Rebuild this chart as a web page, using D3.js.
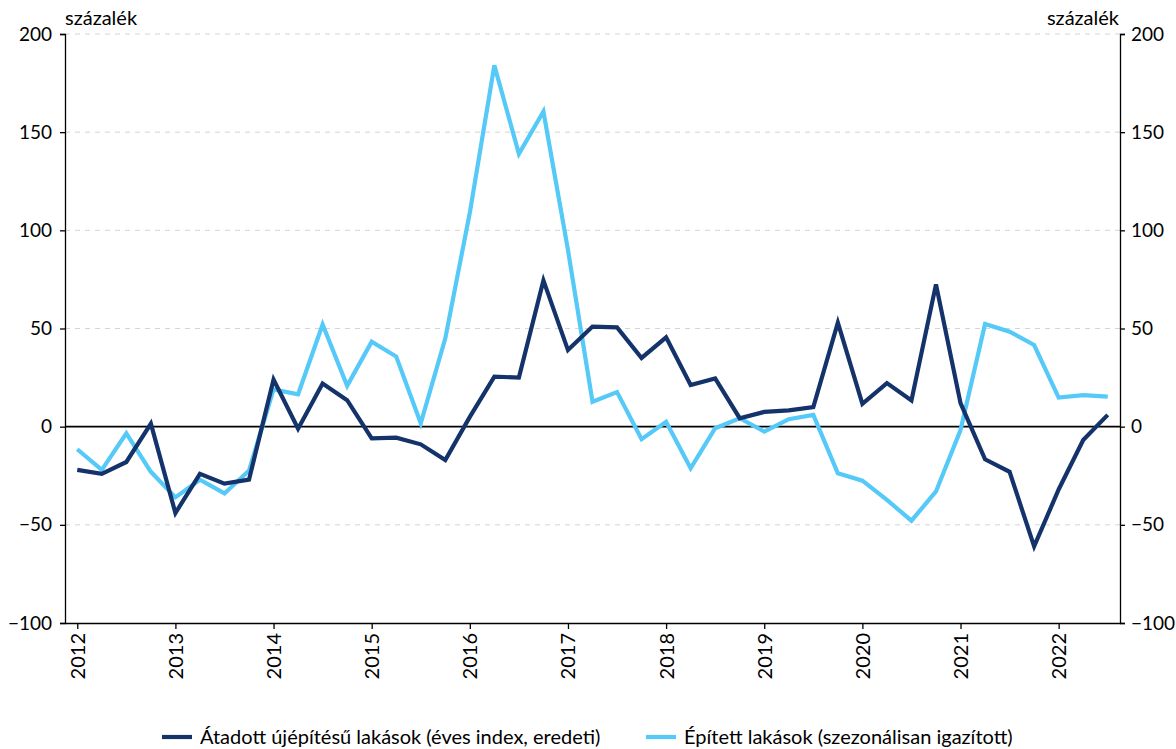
<!DOCTYPE html>
<html>
<head>
<meta charset="utf-8">
<script src="https://cdn.jsdelivr.net/npm/d3@7"></script>
<style>
  body { margin: 0; background: #fff; }
  svg text { font-family: Lato, "Open Sans", sans-serif; fill: #000; }
</style>
</head>
<body>
<svg id="chart" width="1176" height="749"></svg>
<script>
// quarterly, 2012 Q1 .. 2022 Q3
const years = d3.range(2012, 2023);

const atadott = [
  -22, -24, -18, 1.5, -44, -24, -29, -27,
  24, -1, 22, 13.5, -6, -5.6, -9, -17,
  5, 25.5, 25, 74.5, 39, 51, 50.6, 35,
  45.5, 21.2, 24.6, 4.3, 7.5, 8.3, 10, 53,
  11.6, 22.2, 13.3, 72.5, 12, -16.6, -23, -61,
  -32, -6.8, 6
];
const epitett = [
  -11.5, -22, -3.4, -23, -36, -27, -34, -22.4,
  19, 16.5, 52, 20.8, 43.3, 35.7, 1.7, 45,
  109, 184, 139, 160.5, 90, 12.7, 17.6, -6.4,
  2.5, -21.2, -0.8, 4.3, -2.5, 3.8, 6, -23.7,
  -27.5, -37.3, -47.9, -33, -1.7, 52.3, 48.4, 41.6,
  14.8, 16.1, 15.3
];
const yTicks = [-100, -50, 0, 50, 100, 150, 200];
const seriesNames = ["Átadott újépítésű lakások (éves index, eredeti)", "Épített lakások (szezonálisan igazított)"];
const colors = ["#15336b", "#55c9f7"];

const margin = { top: 34, right: 56, bottom: 126, left: 65 };
const width = 1176 - margin.left - margin.right;
const height = 749 - margin.top - margin.bottom;

const svg = d3.select("#chart");
const g = svg.append("g").attr("transform", `translate(${margin.left},${margin.top})`);

const x = d3.scaleLinear().domain([-0.5, 42.5]).range([0, width]);
const y = d3.scaleLinear().domain([-100, 200]).range([height, 0]);

// gridlines
g.append("g").selectAll("line")
  .data(yTicks.filter(v => v !== -100 && v !== 0))
  .join("line")
  .attr("x1", 0).attr("x2", width)
  .attr("y1", d => y(d)).attr("y2", d => y(d))
  .attr("stroke", "#d4d4d4").attr("stroke-width", 1)
  .attr("stroke-dasharray", "5,5");

// axes
const yLeft = d3.axisLeft(y).tickValues(yTicks).tickSize(5).tickPadding(8);
const yRight = d3.axisRight(y).tickValues(yTicks).tickSize(5).tickPadding(6);

const gl = g.append("g").call(yLeft);
const gr = g.append("g").attr("transform", `translate(${width},0)`).call(yRight);
[gl, gr].forEach(a => {
  a.select(".domain").attr("stroke", "#000").attr("stroke-width", 1.3);
  a.selectAll(".tick line").attr("stroke", "#000").attr("stroke-width", 1.3);
  a.selectAll("text").style("font-size", "19px");
});

const xAxis = d3.axisBottom(x)
  .tickValues(years.map(yr => (yr - 2012) * 4))
  .tickFormat(d => String(2012 + d / 4))
  .tickSize(6).tickSizeOuter(0);
const gx = g.append("g").attr("transform", `translate(0,${height})`).call(xAxis);
gx.select(".domain").attr("stroke", "#000").attr("stroke-width", 1.5);
gx.selectAll(".tick line").attr("stroke", "#000").attr("stroke-width", 1.3);
gx.selectAll("text")
  .style("font-size", "20px")
  .attr("transform", "rotate(-90)")
  .attr("text-anchor", "end")
  .attr("x", -10).attr("y", 0).attr("dy", "0.35em");

// zero line
g.append("line")
  .attr("x1", 0).attr("x2", width)
  .attr("y1", y(0)).attr("y2", y(0))
  .attr("stroke", "#000").attr("stroke-width", 1.8);

// unit labels
svg.append("text").attr("x", 65).attr("y", 25).style("font-size", "20px").text("százalék");
svg.append("text").attr("x", 1119).attr("y", 25).attr("text-anchor", "end").style("font-size", "20px").text("százalék");

// lines
const line = d3.line().x((d, i) => x(i)).y(d => y(d));
[epitett, atadott].forEach((s, k) => {
  g.append("path")
    .datum(s)
    .attr("fill", "none")
    .attr("stroke", k === 0 ? colors[1] : colors[0])
    .attr("stroke-width", 4.2)
    .attr("stroke-linejoin", "miter")
    .attr("d", line);
});

// legend
const legend = svg.append("g").attr("transform", "translate(0,737)");
const legendX = [162, 646];
seriesNames.forEach((name, k) => {
  legend.append("line")
    .attr("x1", legendX[k]).attr("x2", legendX[k] + 30)
    .attr("y1", 0).attr("y2", 0)
    .attr("stroke", colors[k]).attr("stroke-width", 4.2);
  legend.append("text")
    .attr("x", legendX[k] + 38).attr("y", 0).attr("dy", "0.35em")
    .style("font-size", "20px")
    .text(name);
});
</script>
</body>
</html>
